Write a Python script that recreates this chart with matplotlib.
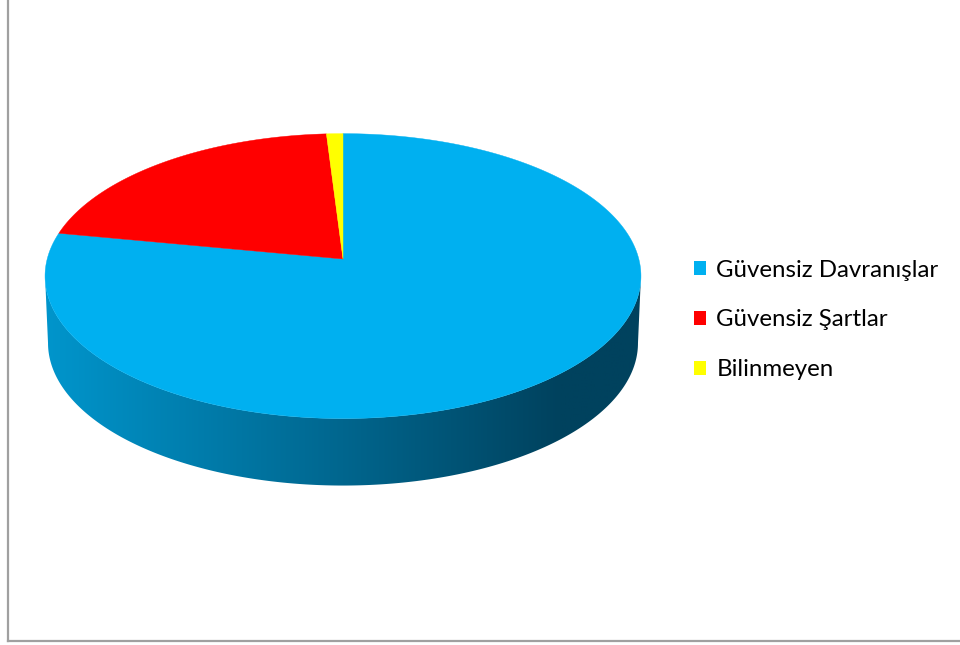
import numpy as np
import matplotlib
matplotlib.use("Agg")
import matplotlib.pyplot as plt
from matplotlib.patches import Polygon, Patch

# data
categories = ["Güvensiz Davranışlar", "Güvensiz Şartlar", "Bilinmeyen"]
values = [78, 21, 1]
colors = ["#00B0F0", "#FF0000", "#FFFF00"]

# layout of the 3D pie (pixels)
cx, cy = 343, 259          # apex of the top face
sx, sy = 295.8, 140.4      # horizontal / vertical radius scale
persp = 0.12               # perspective strength
depth = 67                 # thickness of the pie
shrink = 0.99              # bottom face slightly narrower


def project(theta, dy=0.0, scale=1.0):
    x = np.cos(theta)
    z = np.sin(theta)
    u = x / (1 + persp * z)
    v = z / (1 + persp * z)
    return cx + scale * sx * u, cy - sy * v + dy


fig = plt.figure(figsize=(9.6, 6.45), dpi=100)
ax = fig.add_axes([0, 0, 1, 1])
ax.set_xlim(0, 960)
ax.set_ylim(645, 0)
ax.axis("off")

# side wall (only the front half is visible, all of it belongs to the first slice)
t0 = np.pi + np.arcsin(persp)
t1 = 2 * np.pi - np.arcsin(persp)
t = np.linspace(t0, t1, 300)
xt, yt = project(t)
xb, yb = project(t[::-1], dy=depth, scale=shrink)
side = Polygon(np.column_stack([np.r_[xt, xb], np.r_[yt, yb]]),
               closed=True, facecolor="none", edgecolor="none")
ax.add_patch(side)

stops_x = [40, 343, 560, 650]
stops_c = [(0, 150, 205), (0, 102, 142), (0, 66, 94), (0, 66, 94)]
gx = np.linspace(40, 650, 400)
grad = np.stack([np.interp(gx, stops_x, [c[i] for c in stops_c]) for i in range(3)], axis=-1) / 255
img = ax.imshow(grad[np.newaxis, :, :], extent=(40, 650, 495, 120),
                aspect="auto", zorder=1, interpolation="bilinear")
img.set_clip_path(side)

# top face wedges, clockwise from 12 o'clock
total = sum(values)
start = 90.0
for val, col in zip(values, colors):
    end = start - 360.0 * val / total
    th = np.radians(np.linspace(start, end, max(int(abs(start - end) * 2), 4)))
    ax_, ay_ = project(th)
    pts = np.column_stack([np.r_[cx, ax_], np.r_[cy, ay_]])
    ax.add_patch(Polygon(pts, closed=True, facecolor=col, edgecolor=col,
                         linewidth=0.3, zorder=2))
    start = end

# chart frame
ax.plot([8, 8], [0, 641], color="#A0A0A0", lw=1.6, zorder=0)
ax.plot([8, 960], [641, 641], color="#A0A0A0", lw=1.6, zorder=0)

# legend
handles = [Patch(facecolor=c, edgecolor="none") for c in colors]
fig.legend(handles, categories, loc="center left",
           bbox_to_anchor=(684 / 960, 1 - 320 / 645), frameon=False,
           prop={"family": "Lato", "size": 17.3}, handlelength=0.5,
           handleheight=0.5, handletextpad=0.45, labelspacing=1.2,
           borderaxespad=0)

fig.savefig("out.png", dpi=100)
